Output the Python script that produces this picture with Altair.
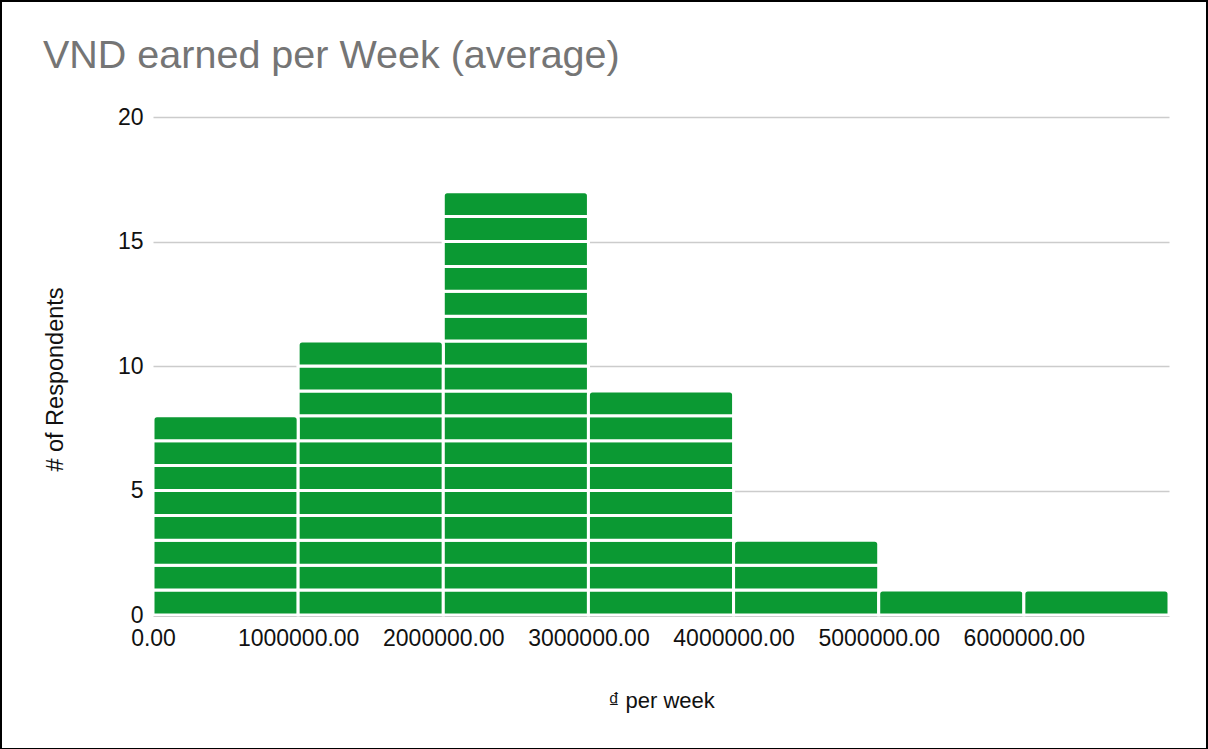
import altair as alt
import pandas as pd

# Histogram of weekly earnings, one block per respondent
bin_starts = [0, 1000000, 2000000, 3000000, 4000000, 5000000, 6000000]
bin_width = 1000000
counts = [8, 11, 17, 9, 3, 1, 1]
x_ticks = [0, 1000000, 2000000, 3000000, 4000000, 5000000, 6000000]
y_ticks = [0, 5, 10, 15, 20]

rows = []
for start, n in zip(bin_starts, counts):
    for level in range(n):
        rows.append({
            "start": start,
            "end": start + bin_width,
            "lo": level,
            "hi": level + 1,
            "top": level == n - 1,
        })
units = pd.DataFrame(rows)

FONT = "Liberation Sans"
GREEN = "#0b9933"

x_enc = alt.X(
    "start:Q",
    scale=alt.Scale(domain=[0, 7000000], nice=False, zero=True),
    axis=alt.Axis(
        values=x_ticks, format=".2f", title="₫ per week",
        labelFontSize=23, labelColor="#111", labelPadding=12,
        ticks=False, grid=False, domain=True, domainColor="#444", domainWidth=2,
        titleFontSize=22, titleFontWeight="normal", titleColor="#111",
        titlePadding=40, labelFont=FONT, titleFont=FONT, labelFlush=False,
        labelOverlap=False,
    ),
)
y_enc = alt.Y(
    "lo:Q",
    scale=alt.Scale(domain=[0, 20], nice=False),
    axis=alt.Axis(
        values=y_ticks, title="# of Respondents",
        labelFontSize=23, labelColor="#111", labelPadding=10,
        ticks=False, domain=False, grid=True, gridColor="#cccccc", gridWidth=1.5,
        titleFontSize=23.5, titleFontWeight="normal", titleColor="#111",
        titlePadding=50, titleY=262, labelFont=FONT, titleFont=FONT,
    ),
)

base = alt.Chart(units)

lower = base.transform_filter("!datum.top").mark_bar(
    color=GREEN, stroke="white", strokeWidth=3
).encode(x=x_enc, x2="end:Q", y=y_enc, y2="hi:Q")

upper = base.transform_filter("datum.top").mark_bar(
    color=GREEN, stroke="white", strokeWidth=3,
    cornerRadiusTopLeft=4, cornerRadiusTopRight=4,
).encode(x="start:Q", x2="end:Q", y="lo:Q", y2="hi:Q")

# frame around the whole picture
frame = alt.Chart(pd.DataFrame({"k": [0]})).mark_rect(
    fill=None, stroke="black", strokeWidth=2, clip=False
).encode(
    x=alt.value(-152), x2=alt.value(1054),
    y=alt.value(-116), y2=alt.value(632),
)

chart = alt.layer(lower, upper, frame).properties(
    width=1016,
    height=498,
    title=alt.TitleParams(
        "VND earned per Week (average)",
        anchor="start", frame="group", dx=-110, offset=0, dy=107,
        baseline="alphabetic",
        fontSize=39.5, font=FONT, fontWeight="normal", color="#757575",
    ),
    autosize=alt.AutoSizeParams(type="none"),
    padding={"left": 153, "top": 117, "right": 39, "bottom": 134},
    background="white",
).configure_view(stroke=None)

chart.save("out.html", embed_options={"renderer": "svg", "actions": False})
